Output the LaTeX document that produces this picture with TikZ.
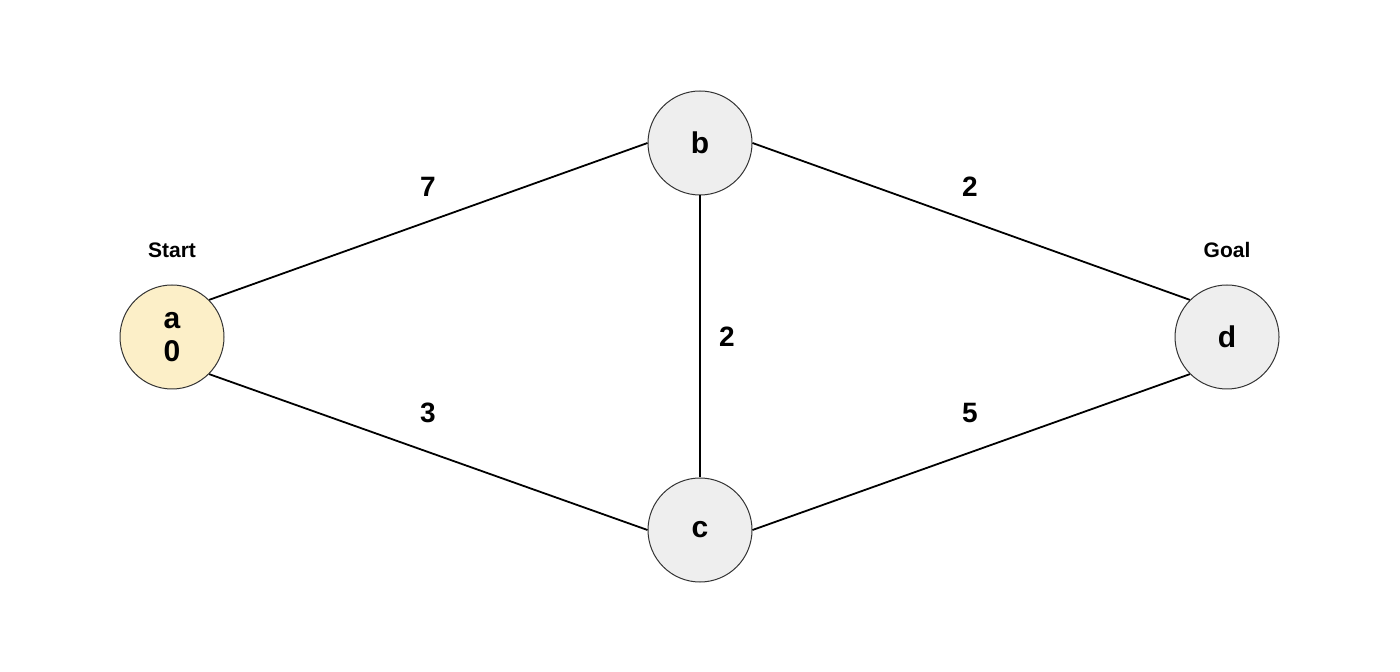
\documentclass[tikz,border=0pt]{standalone}
\usepackage{fontspec}
\setmainfont{Liberation Sans}
\definecolor{startfill}{HTML}{FCEFC8}
\definecolor{nodefill}{HTML}{EEEEEE}
\definecolor{nodeedge}{HTML}{333333}
\begin{document}
\begin{tikzpicture}[x=0.5pt,y=-0.5pt,
  vertex/.style={circle,draw=nodeedge,line width=0.5pt,fill=nodefill,minimum size=52pt,inner sep=0pt,font=\bfseries\fontsize{15}{17}\selectfont,align=center},
  startv/.style={vertex,fill=startfill},
  edge/.style={line width=0.9pt,black},
  wlabel/.style={font=\bfseries\fontsize{14}{16}\selectfont},
  tag/.style={font=\bfseries\fontsize{10.5}{12}\selectfont}]
\useasboundingbox (0,0) rectangle (1400,672);
\node[startv] (a) at (172,337) {a\\[-0.5pt]0};
\node[vertex] (b) at (700,143) {b};
\node[vertex] (c) at (700,530) {c};
\node[vertex] (d) at (1227,337) {d};
\draw[edge] (a.north east) -- (b.west);
\draw[edge] (a.south east) -- (c.west);
\draw[edge] (b.south) -- (c.north);
\draw[edge] (b.east) -- (d.north west);
\draw[edge] (c.east) -- (d.south west);
\node[wlabel] (w1) at (428,187) {7};
\node[wlabel] (w2) at (428,413) {3};
\node[wlabel] (w3) at (727,337) {2};
\node[wlabel] (w4) at (970,187) {2};
\node[wlabel] (w5) at (970,413) {5};
\node[tag] (ts) at (172,250) {Start};
\node[tag] (tg) at (1227,250) {Goal};
\end{tikzpicture}
\end{document}
